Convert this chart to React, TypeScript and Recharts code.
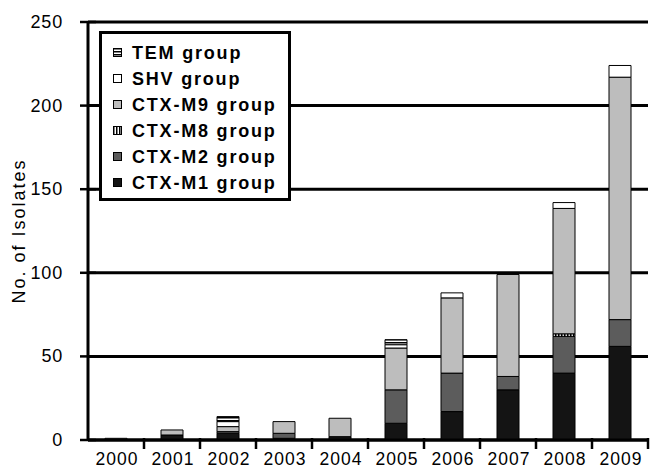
import React from 'react';
import { BarChart, Bar, XAxis, YAxis, CartesianGrid, Legend } from 'recharts';

// years on the x axis
const years = ['2000', '2001', '2002', '2003', '2004', '2005', '2006', '2007', '2008', '2009'];

// isolates per group (bottom to top)
const ctxM1 = [0, 3, 4, 1, 2, 10, 17, 30, 40, 56];
const ctxM2 = [0, 0, 1, 3, 0, 20, 23, 8, 22, 16];
const ctxM8 = [0, 0, 0, 0, 0, 0, 0, 0, 1.5, 0];
const ctxM9 = [1, 3, 3, 7, 11, 25, 45, 61, 75, 145];
const shv = [0, 0, 3, 0, 0, 2, 3, 0, 3.5, 7];
const tem = [0, 0, 3, 0, 0, 3, 0, 0, 0, 0];

const yTicks = [0, 50, 100, 150, 200, 250];

const data = years.map((year, i) => ({
  year,
  m1: ctxM1[i],
  m2: ctxM2[i],
  m8: ctxM8[i],
  m9: ctxM9[i],
  shv: shv[i],
  tem: tem[i],
}));

const series = [
  { key: 'm1', name: 'CTX-M1 group', fill: '#141414' },
  { key: 'm2', name: 'CTX-M2 group', fill: '#5c5c5c' },
  { key: 'm8', name: 'CTX-M8 group', fill: 'url(#vstripe)' },
  { key: 'm9', name: 'CTX-M9 group', fill: '#bdbdbd' },
  { key: 'shv', name: 'SHV group', fill: '#ffffff' },
  { key: 'tem', name: 'TEM group', fill: 'url(#hstripe)' },
];

const W = 651;
const H = 468;
const LEFT = 88;
const RIGHT = 3;
const TOP = 22;
const XH = 28;
const AXIS_Y = H - XH;
const STEP = (W - LEFT - RIGHT) / years.length;
const FONT = 'Liberation Sans, Arial, Helvetica, sans-serif';

const XTick = (props: any) => {
  const { x, payload } = props;
  return (
    <g>
      <line x1={x + STEP / 2} x2={x + STEP / 2} y1={AXIS_Y - 2} y2={AXIS_Y + 9} stroke="#000" strokeWidth={2.5} />
      <text x={x + 1} y={AXIS_Y + 25} textAnchor="middle" fontSize={17.5} letterSpacing={1} fontFamily={FONT} fill="#000">
        {payload.value}
      </text>
    </g>
  );
};

const YTick = (props: any) => {
  const { y, payload } = props;
  return (
    <g>
      <line x1={LEFT - 8} x2={LEFT + 8} y1={y} y2={y} stroke="#000" strokeWidth={2.5} />
      <text x={LEFT - 25} y={y + 6} textAnchor="end" fontSize={18} letterSpacing={0.8} fontFamily={FONT} fill="#000">
        {payload.value}
      </text>
    </g>
  );
};

const LegendBox = (props: any) => {
  const items = [...(props.payload || [])].reverse();
  return (
    <div
      style={{
        width: 186,
        height: 158,
        border: '3px solid #000',
        background: '#fff',
        boxSizing: 'content-box',
        paddingTop: 6,
        fontFamily: FONT,
      }}
    >
      {items.map((item: any) => (
        <div key={item.value} style={{ display: 'flex', alignItems: 'center', height: 26 }}>
          <svg width={10} height={10} style={{ marginLeft: 11, marginRight: 9 }}>
            <rect x={0.5} y={0.5} width={8} height={8} fill={item.color} stroke="#000" strokeWidth={1} />
          </svg>
          <span style={{ fontSize: 18, fontWeight: 'bold', letterSpacing: 1.8, color: '#000' }}>{item.value}</span>
        </div>
      ))}
    </div>
  );
};

const App = () => {
  return (
    <div style={{ position: 'absolute', left: 0, top: 0, background: '#fff' }}>
      <BarChart width={W} height={H} data={data} margin={{ top: TOP, right: RIGHT, left: 0, bottom: 0 }} barSize={22}>
        <defs>
          <pattern id="vstripe" width={3} height={3} patternUnits="userSpaceOnUse">
            <rect width={3} height={3} fill="#fff" />
            <rect width={1.5} height={3} fill="#000" />
          </pattern>
          <pattern id="hstripe" width={3} height={3} patternUnits="userSpaceOnUse">
            <rect width={3} height={3} fill="#fff" />
            <rect width={3} height={1.5} fill="#000" />
          </pattern>
        </defs>
        <CartesianGrid horizontal vertical={false} stroke="#000" strokeWidth={3} />
        <XAxis
          dataKey="year"
          height={XH}
          axisLine={{ stroke: '#000', strokeWidth: 3 }}
          tickLine={false}
          tick={<XTick />}
          interval={0}
        />
        <YAxis
          width={LEFT}
          domain={[0, 250]}
          ticks={yTicks}
          axisLine={{ stroke: '#000', strokeWidth: 3 }}
          tickLine={false}
          tick={<YTick />}
          label={{
            content: (p: any) => {
              const vb = p.viewBox || { x: 0, y: TOP, height: H - TOP - XH };
              const cx = 25;
              const cy = vb.y + vb.height / 2;
              return (
                <text
                  x={cx}
                  y={cy}
                  transform={`rotate(-90 ${cx} ${cy})`}
                  textAnchor="middle"
                  fontSize={18}
                  letterSpacing={2}
                  fontFamily={FONT}
                  fill="#000"
                >
                  No. of Isolates
                </text>
              );
            },
          }}
        />
        <Legend
          layout="vertical"
          align="center"
          verticalAlign="middle"
          content={<LegendBox />}
          wrapperStyle={{ left: 99, top: 31, width: 192 }}
        />
        {series.map((s) => (
          <Bar
            key={s.key}
            dataKey={s.key}
            name={s.name}
            stackId="a"
            fill={s.fill}
            stroke="#000"
            strokeWidth={1}
            isAnimationActive={false}
          />
        ))}
      </BarChart>
    </div>
  );
};

export default App;
